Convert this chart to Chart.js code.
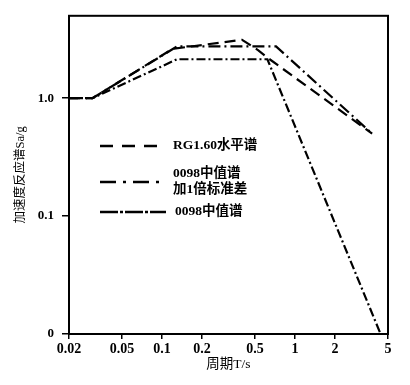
<!DOCTYPE html>
<html>
<head>
<meta charset="utf-8">
<script src="https://cdn.jsdelivr.net/npm/chart.js@4.4.1/dist/chart.umd.min.js"></script>
<style>
  body { margin: 0; background: #fff; }
  #wrap { width: 410px; height: 385px; }
</style>
</head>
<body>
<div id="wrap"><canvas id="chart"></canvas></div>
<script>
'use strict';

// periods (s) and spectral accelerations (Sa/g)
const rgPeriods = [0.02, 0.03, 0.12, 0.4, 0.53, 0.63, 3.8];
const rgSa = [1.0, 1.0, 2.62, 3.13, 2.55, 2.18, 0.5];

const sigmaPeriods = [0.02, 0.03, 0.13, 0.72, 3.8];
const sigmaSa = [1.0, 1.0, 2.75, 2.75, 0.5];

const medianPeriods = [0.02, 0.03, 0.13, 0.62, 4.4];
const medianSa = [1.0, 1.0, 2.14, 2.14, 0.01];

const xTicks = [0.02, 0.05, 0.1, 0.2, 0.5, 1, 2, 5];
const xTickLabels = ['0.02', '0.05', '0.1', '0.2', '0.5', '1', '2', '5'];
const yTicks = [0.01, 0.1, 1];
const yTickLabels = ['0', '0.1', '1.0'];

const legendLabels = [['RG1.60水平谱'], ['0098中值谱', '加1倍标准差'], ['0098中值谱']];

function toPoints(xs, ys) {
  let pts = [];
  for (let i = 0; i < xs.length; i++) {
    pts.push({ x: xs[i], y: ys[i] });
  }
  return pts;
}

const serif = "'Liberation Serif', 'Noto Sans CJK SC', serif";

// legend + frame drawn by hand, the figure has its legend inside the plot
const framePlugin = {
  id: 'frame',
  afterDraw(chart) {
    const ctx = chart.ctx;
    const a = chart.chartArea;
    ctx.save();
    ctx.strokeStyle = '#000';
    ctx.lineWidth = 2;
    ctx.strokeRect(a.left, a.top, a.right - a.left, a.bottom - a.top);

    const dashes = [[13, 9], [16, 7, 3, 7], [18, 2, 3, 2]];
    const rows = [146, 182, 212];
    const ends = [158, 160, 166];
    ctx.lineWidth = 2.5;
    for (let i = 0; i < rows.length; i++) {
      ctx.setLineDash(dashes[i]);
      ctx.beginPath();
      ctx.moveTo(100, rows[i]);
      ctx.lineTo(ends[i], rows[i]);
      ctx.stroke();
    }
    ctx.setLineDash([]);
    ctx.fillStyle = '#000';
    ctx.font = 'bold 13.5px ' + serif;
    ctx.textBaseline = 'middle';
    ctx.textAlign = 'left';
    ctx.fillText(legendLabels[0][0], 173, rows[0]);
    ctx.fillText(legendLabels[1][0], 173, 174);
    ctx.fillText(legendLabels[1][1], 173, 190);
    ctx.fillText(legendLabels[2][0], 175, rows[2]);
    ctx.restore();
  }
};

const ctx = document.getElementById('chart');

const config = {
  type: 'line',
  data: {
    datasets: [
      {
        label: 'RG1.60水平谱',
        data: toPoints(rgPeriods, rgSa),
        borderColor: '#000',
        borderWidth: 2.2,
        borderDash: [11, 6],
        pointRadius: 0,
        fill: false
      },
      {
        label: '0098中值谱加1倍标准差',
        data: toPoints(sigmaPeriods, sigmaSa),
        borderColor: '#000',
        borderWidth: 2.2,
        borderDash: [12, 4, 2, 4],
        pointRadius: 0,
        fill: false
      },
      {
        label: '0098中值谱',
        data: toPoints(medianPeriods, medianSa),
        borderColor: '#000',
        borderWidth: 2.2,
        borderDash: [9, 3, 2, 3],
        pointRadius: 0,
        fill: false
      }
    ]
  },
  options: {
    responsive: true,
    maintainAspectRatio: false,
    animation: false,
    layout: { padding: { top: 15, right: 22, left: 0, bottom: 0 } },
    plugins: {
      legend: { display: false },
      tooltip: { enabled: false }
    },
    scales: {
      x: {
        type: 'logarithmic',
        min: 0.02,
        max: 5,
        afterBuildTicks: (scale) => { scale.ticks = xTicks.map(v => ({ value: v })); },
        afterFit: (scale) => { scale.height = 51; },
        ticks: {
          autoSkip: false,
          maxRotation: 0,
          padding: 2,
          color: '#000',
          font: { family: serif, size: 14, weight: 'bold' },
          callback: (value, index) => xTickLabels[index]
        },
        grid: { drawOnChartArea: false, tickLength: 5, color: '#000', lineWidth: 1.5 },
        border: { color: '#000', width: 2 },
        title: {
          display: true,
          text: '周期T/s',
          color: '#000',
          font: { family: serif, size: 13.5 },
          padding: { top: 0, bottom: 12 }
        }
      },
      y: {
        type: 'logarithmic',
        min: 0.01,
        max: 5,
        afterBuildTicks: (scale) => { scale.ticks = yTicks.map(v => ({ value: v })); },
        afterFit: (scale) => { scale.width = 69; },
        ticks: {
          autoSkip: false,
          padding: 8,
          color: '#000',
          font: { family: serif, size: 13, weight: 'bold' },
          callback: (value, index) => yTickLabels[index]
        },
        grid: { drawOnChartArea: false, tickLength: 7, color: '#000', lineWidth: 1.5 },
        border: { color: '#000', width: 2 },
        title: {
          display: true,
          text: '加速度反应谱Sa/g',
          color: '#000',
          font: { family: serif, size: 12.5 },
          padding: { top: 13, bottom: 0 }
        }
      }
    }
  },
  plugins: [framePlugin]
};

new Chart(ctx, config);
</script>
</body>
</html>
